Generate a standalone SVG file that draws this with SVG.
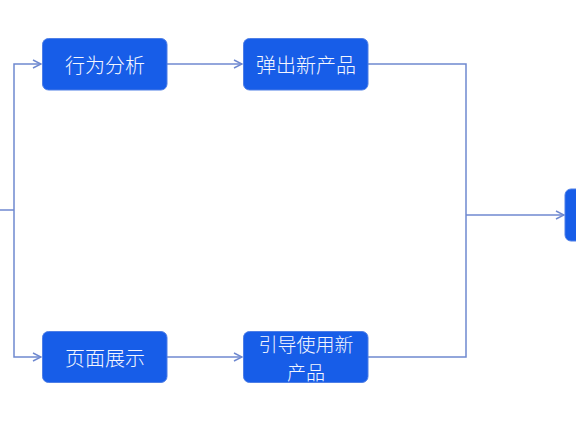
<svg xmlns="http://www.w3.org/2000/svg" width="576" height="432" viewBox="0 0 576 432">
<defs>
<style>
.node rect{fill:#175de8;stroke:#4f7fe6;stroke-width:1}
.node text{fill:#f4f6ff;font-family:"Noto Sans CJK SC","Noto Sans",sans-serif;font-size:20px;font-weight:300;text-anchor:middle;dominant-baseline:central}
.node text.sm{font-size:19px}
.conn path{fill:none;stroke:#6f89d0;stroke-width:1.5}
</style>
<marker id="arr" viewBox="0 0 10 10" refX="9" refY="5" markerWidth="10" markerHeight="10" markerUnits="userSpaceOnUse" orient="auto">
<path d="M1,1 L9,5 L1,9" fill="none" stroke="#6f89d0" stroke-width="1.5"/>
</marker>
</defs>
<rect width="576" height="432" fill="#ffffff"/>
<g class="conn">
<path d="M0,210 H14"/>
<path d="M14,210 V64 H41" marker-end="url(#arr)"/>
<path d="M14,210 V357 H41" marker-end="url(#arr)"/>
<path d="M167,64 H242" marker-end="url(#arr)"/>
<path d="M167,357 H242" marker-end="url(#arr)"/>
<path d="M368,64 H466 V357 H368"/>
<path d="M466,215 H564" marker-end="url(#arr)"/>
</g>
<g id="n1" class="node"><rect x="42.5" y="38.5" width="124.5" height="51.5" rx="6"/><text x="105" y="64.5">行为分析</text></g>
<g id="n2" class="node"><rect x="243.5" y="38.5" width="124.5" height="51.5" rx="6"/><text x="306" y="64.5">弹出新产品</text></g>
<g id="n3" class="node"><rect x="42.5" y="331.5" width="124.5" height="51" rx="6"/><text x="105" y="357">页面展示</text></g>
<g id="n4" class="node"><rect x="243.5" y="331.5" width="124.5" height="51" rx="6"/><text class="sm" x="306" y="343.5">引导使用新</text><text class="sm" x="306" y="371.5">产品</text></g>
<g id="n5" class="node"><rect x="565" y="189" width="30" height="52" rx="6"/></g>
</svg>
